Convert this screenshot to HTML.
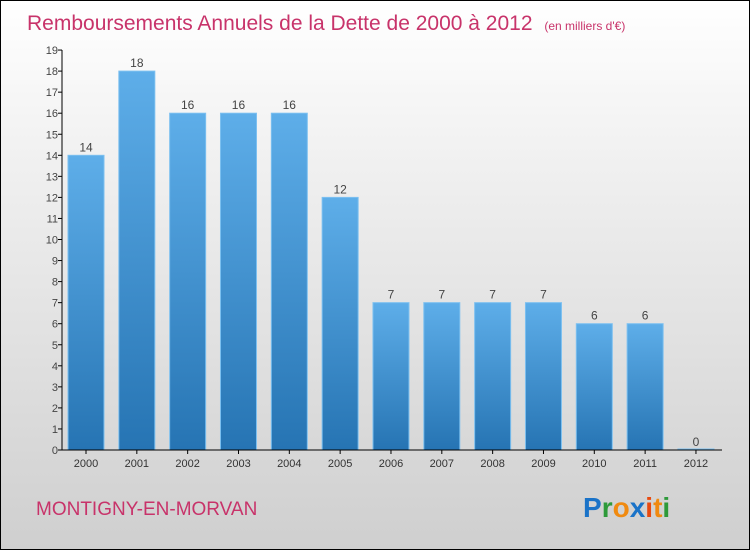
<!DOCTYPE html>
<html><head><meta charset="utf-8"><style>
body{margin:0;width:750px;height:550px;overflow:hidden;font-family:"Liberation Sans",sans-serif}
#c{position:absolute;left:0;top:0;width:748px;height:548px;border:1px solid #000;background:linear-gradient(#fff,#f0f0f0 30%,#cfcfcf)}
</style></head><body>
<div id="c">
<svg width="748" height="548" xmlns="http://www.w3.org/2000/svg" id="svg">
<defs><linearGradient id="bg" x1="0" y1="0" x2="0" y2="1"><stop offset="0" stop-color="#5eaee9"/><stop offset="1" stop-color="#2674b3"/></linearGradient></defs>
<text x="26" y="29" font-size="21" fill="#c8336a">Remboursements Annuels de la Dette de 2000 à 2012 <tspan font-size="12" dx="6">(en milliers d'€)</tspan></text>
<text x="35" y="514" font-size="19" fill="#c8336a">MONTIGNY-EN-MORVAN</text>
<g font-size="28" font-weight="bold">
<text x="582" y="516"><tspan fill="#1a73c8">P</tspan><tspan fill="#2e9a3a">r</tspan><tspan fill="#f08a10">o</tspan><tspan fill="#1a73c8">x</tspan><tspan fill="#e84a10">i</tspan><tspan fill="#f08a10">t</tspan><tspan fill="#2e9a3a">i</tspan></text></g>
<g id="plot"></g>
</svg></div>
<script>
const categories=["2000","2001","2002","2003","2004","2005","2006","2007","2008","2009","2010","2011","2012"];
const values=[14,18,16,16,16,12,7,7,7,7,6,6,0];
const yTicks=[0,1,2,3,4,5,6,7,8,9,10,11,12,13,14,15,16,17,18,19];
const NS="http://www.w3.org/2000/svg";
const g=document.getElementById('plot');
const y=v=>449-v*21.05, x=i=>85+i*50.83;
function mk(t,a,txt){const e=document.createElementNS(NS,t);for(const k in a)e.setAttribute(k,a[k]);if(txt!=null)e.textContent=txt;g.appendChild(e);return e;}
values.forEach((v,i)=>{
 const h=Math.max(v*21.05,1);
 const r=mk('rect',{x:x(i)-18,y:449-h,width:36,height:h,fill:'url(#bg)',stroke:'#7cc0f0','stroke-width':1});
 
 
 const t=mk('text',{x:x(i),y:y(v)-4,'text-anchor':'middle','font-size':12,fill:'#444'},String(v));
 
 
 const c=mk('text',{x:x(i),y:466,'text-anchor':'middle','font-size':11,fill:'#333'},categories[i]);
 
 
 mk('line',{x1:x(i),x2:x(i),y1:449,y2:453,stroke:'#000'});
});
yTicks.forEach(v=>{
 mk('line',{x1:57,x2:61,y1:y(v),y2:y(v),stroke:'#000'});
 const t=mk('text',{x:57,y:y(v)+4,'text-anchor':'end','font-size':11,fill:'#444'},String(v));
 
 
});
const ya=mk('line',{x1:61,x2:61,y1:y(19),y2:449,stroke:'#000'});


const xa=mk('line',{x1:61,x2:721,y1:449,y2:449,stroke:'#000'});


</script>
</body></html>
